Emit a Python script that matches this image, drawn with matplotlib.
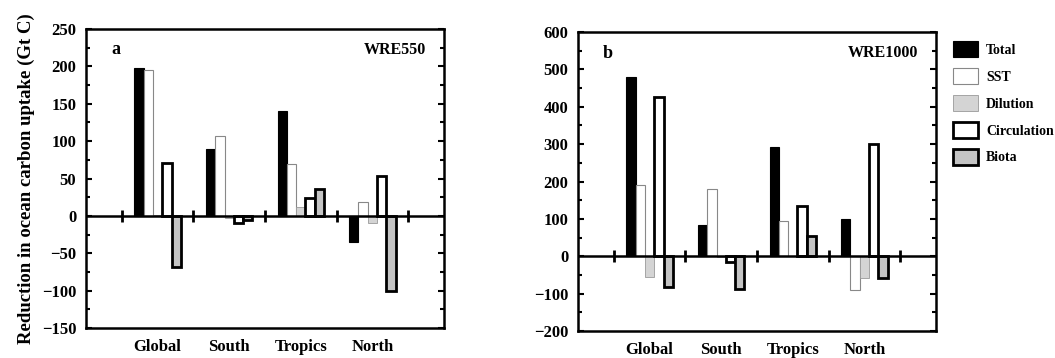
import numpy as np
import matplotlib
matplotlib.use("Agg")
import matplotlib.pyplot as plt
from matplotlib.ticker import MultipleLocator

plt.rcParams['font.family'] = ['Liberation Serif', 'DejaVu Serif']
plt.rcParams['font.weight'] = 'bold'

regions = ["Global", "South", "Tropics", "North"]
series = ["Total", "SST", "Dilution", "Circulation", "Biota"]

# panel a : WRE550
wre550_total = [198, 90, 140, -35]
wre550_sst = [195, 107, 69, 18]
wre550_dilution = [1, -3, 12, -10]
wre550_circulation = [71, -10, 24, 53]
wre550_biota = [-68, -6, 36, -100]

# panel b : WRE1000
wre1000_total = [481, 83, 293, 101]
wre1000_sst = [190, 181, 95, -91]
wre1000_dilution = [-56, -3, 2, -59]
wre1000_circulation = [425, -14, 135, 300]
wre1000_biota = [-82, -88, 55, -59]

styles = [
    dict(facecolor='black', edgecolor='black', linewidth=0.8),
    dict(facecolor='white', edgecolor='#888888', linewidth=0.8),
    dict(facecolor='#d4d4d4', edgecolor='#9a9a9a', linewidth=0.6),
    dict(facecolor='white', edgecolor='black', linewidth=2.0),
    dict(facecolor='#c4c4c4', edgecolor='black', linewidth=2.0),
]

fig = plt.figure(figsize=(10.55, 3.58), dpi=100)
ax_a = fig.add_axes([0.0815, 0.0838, 0.3394, 0.835])
ax_b = fig.add_axes([0.5479, 0.0754, 0.3393, 0.835])


def panel(ax, data, ylim, major, minor, letter, name):
    x = np.arange(len(regions))
    w = 0.13
    bars = []
    for i, vals in enumerate(data):
        b = ax.bar(x + (i - 2) * w, vals, w, label=series[i], zorder=3, **styles[i])
        bars.append(b)
    ax.axhline(0, color='black', lw=1.8, zorder=4)
    seps = np.arange(len(regions) + 1) - 0.5
    ax.plot(seps, np.zeros(len(seps)), '|', color='black', ms=8, mew=2, zorder=5)
    ax.set_xlim(-1, len(regions))
    ax.set_ylim(*ylim)
    ax.set_xticks(x)
    ax.set_xticklabels(regions, fontsize=12, fontweight='bold')
    ax.tick_params(axis='x', length=0, pad=8)
    ax.yaxis.set_major_locator(MultipleLocator(major))
    ax.yaxis.set_minor_locator(MultipleLocator(minor))
    ax.tick_params(axis='y', which='both', direction='in', left=True, right=True,
                   labelsize=12, width=1.5, pad=7)
    ax.tick_params(axis='y', which='major', length=4)
    ax.tick_params(axis='y', which='minor', length=3)
    for s in ax.spines.values():
        s.set_linewidth(1.8)
    ax.text(0.07, 0.93, letter, transform=ax.transAxes, fontsize=13,
            fontweight='bold', va='center')
    ax.text(0.95, 0.93, name, transform=ax.transAxes, fontsize=11.5,
            fontweight='bold', va='center', ha='right')
    return bars


panel(ax_a, [wre550_total, wre550_sst, wre550_dilution, wre550_circulation, wre550_biota],
      (-150, 250), 50, 25, "a", "WRE550")
bars = panel(ax_b, [wre1000_total, wre1000_sst, wre1000_dilution, wre1000_circulation, wre1000_biota],
             (-200, 600), 100, 50, "b", "WRE1000")

ax_a.set_ylabel("Reduction in ocean carbon uptake (Gt C)", fontsize=13.5,
                fontweight='bold', labelpad=5)

fig.legend(handles=bars, labels=series, loc='upper left',
           bbox_to_anchor=(0.898, 0.9), frameon=False, fontsize=10,
           handlelength=1.8, handleheight=1.4, handletextpad=0.6,
           labelspacing=0.78, borderaxespad=0)

fig.savefig("out.png", dpi=100)
